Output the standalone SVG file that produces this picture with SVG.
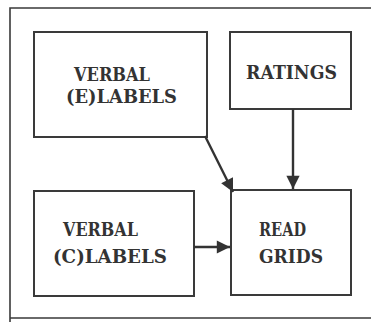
<svg xmlns="http://www.w3.org/2000/svg" width="371" height="322" viewBox="0 0 371 322">
  <style>
    .box { fill: none; stroke: #3a3a3a; stroke-width: 2; }
    .frame { fill: none; stroke: #3a3a3a; stroke-width: 1.6; }
    .edge { fill: none; stroke: #333; stroke-width: 2.4; }
    .lbl { font-family: "DejaVu Serif", "Liberation Serif", serif; font-weight: bold; font-size: 19px; fill: #333; }
  </style>
  <defs>
    <marker id="arrow" viewBox="0 0 10 10" refX="10" refY="5" markerWidth="6" markerHeight="5.5" markerUnits="strokeWidth" orient="auto">
      <path d="M0,0 L10,5 L0,10 Z" fill="#333"/>
    </marker>
  </defs>
  <rect width="371" height="322" fill="#fff"/>
  <!-- outer frame -->
  <path class="frame" d="M10,322 V8 H371 M10,318 H371"/>

  <g id="verbal-e">
    <rect class="box" x="34" y="32" width="173" height="105"/>
    <text class="lbl" x="74" y="81" textLength="76" lengthAdjust="spacingAndGlyphs">VERBAL</text>
    <text class="lbl" x="66" y="103" textLength="111" lengthAdjust="spacingAndGlyphs">(E)LABELS</text>
  </g>
  <g id="ratings">
    <rect class="box" x="230" y="32" width="121" height="77"/>
    <text class="lbl" x="246" y="79" textLength="91" lengthAdjust="spacingAndGlyphs">RATINGS</text>
  </g>
  <g id="verbal-c">
    <rect class="box" x="34" y="191" width="160" height="105"/>
    <text class="lbl" x="63" y="236" textLength="75" lengthAdjust="spacingAndGlyphs">VERBAL</text>
    <text class="lbl" x="53" y="263" textLength="114" lengthAdjust="spacingAndGlyphs">(C)LABELS</text>
  </g>
  <g id="read-grids">
    <rect class="box" x="231" y="190" width="120" height="105"/>
    <text class="lbl" x="259" y="236" textLength="47" lengthAdjust="spacingAndGlyphs">READ</text>
    <text class="lbl" x="259" y="263" textLength="64" lengthAdjust="spacingAndGlyphs">GRIDS</text>
  </g>

  <g id="connectors">
    <line class="edge" x1="205" y1="136" x2="233" y2="192" marker-end="url(#arrow)"/>
    <line class="edge" x1="293" y1="109" x2="293" y2="189" marker-end="url(#arrow)"/>
    <line class="edge" x1="194" y1="247" x2="230" y2="247" marker-end="url(#arrow)"/>
  </g>
</svg>
